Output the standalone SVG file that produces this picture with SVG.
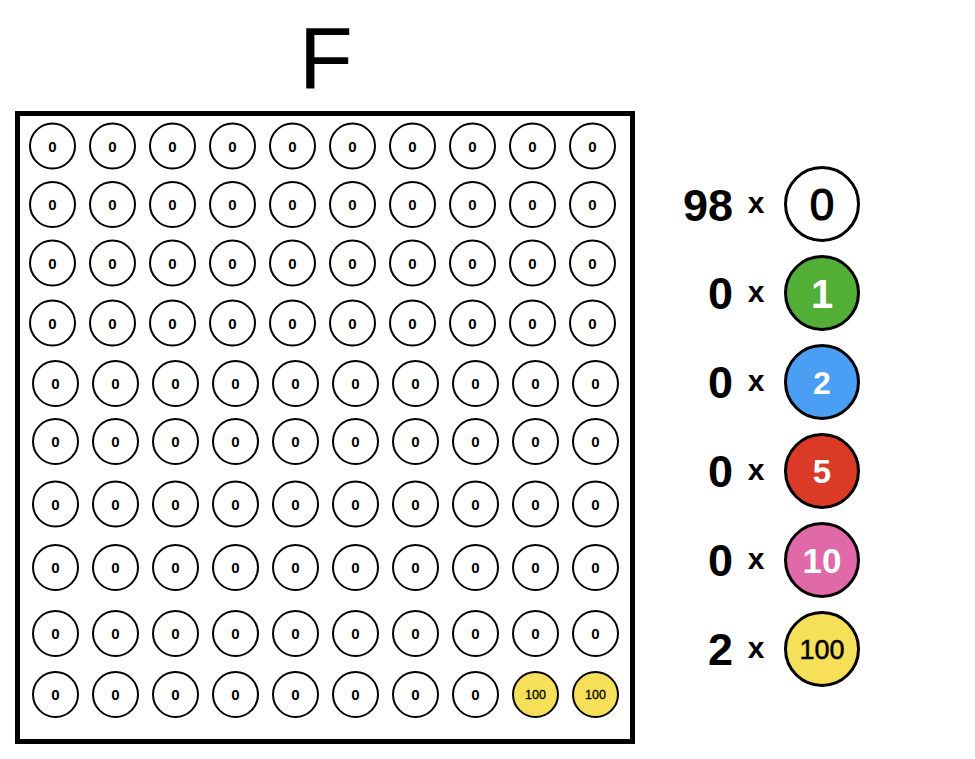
<svg xmlns="http://www.w3.org/2000/svg" width="975" height="759" viewBox="0 0 975 759">
<style>
text{font-family:"Liberation Sans",Arial,sans-serif;text-anchor:middle}
.c{fill:#fff;stroke:#000;stroke-width:2}
.y{fill:#F6E05A;stroke:#000;stroke-width:2}
.t{font-size:15px;font-weight:bold;fill:#000}
.t1{font-size:12.5px;fill:#000;stroke:#000;stroke-width:0.3}
.lc{stroke:#000;stroke-width:3}
.num{font-size:45px;font-weight:bold;text-anchor:end}
.x{font-size:30px;font-weight:bold}
</style>
<rect width="975" height="759" fill="#fff"/>
<text id="title" x="326" y="88" style="font-size:88px">F</text>
<rect id="frame" x="17.5" y="113.5" width="615" height="628" fill="none" stroke="#000" stroke-width="5"/>
<g id="grid">
<g id="r1">
<circle class="c" cx="52.5" cy="146" r="22.5"/><text class="t" x="52.5" y="151.5">0</text>
<circle class="c" cx="112.5" cy="146" r="22.5"/><text class="t" x="112.5" y="151.5">0</text>
<circle class="c" cx="172.5" cy="146" r="22.5"/><text class="t" x="172.5" y="151.5">0</text>
<circle class="c" cx="232.5" cy="146" r="22.5"/><text class="t" x="232.5" y="151.5">0</text>
<circle class="c" cx="292.5" cy="146" r="22.5"/><text class="t" x="292.5" y="151.5">0</text>
<circle class="c" cx="352.5" cy="146" r="22.5"/><text class="t" x="352.5" y="151.5">0</text>
<circle class="c" cx="412.5" cy="146" r="22.5"/><text class="t" x="412.5" y="151.5">0</text>
<circle class="c" cx="472.5" cy="146" r="22.5"/><text class="t" x="472.5" y="151.5">0</text>
<circle class="c" cx="532.5" cy="146" r="22.5"/><text class="t" x="532.5" y="151.5">0</text>
<circle class="c" cx="592.5" cy="146" r="22.5"/><text class="t" x="592.5" y="151.5">0</text>
</g>
<g id="r2">
<circle class="c" cx="52.5" cy="204.5" r="22.5"/><text class="t" x="52.5" y="210">0</text>
<circle class="c" cx="112.5" cy="204.5" r="22.5"/><text class="t" x="112.5" y="210">0</text>
<circle class="c" cx="172.5" cy="204.5" r="22.5"/><text class="t" x="172.5" y="210">0</text>
<circle class="c" cx="232.5" cy="204.5" r="22.5"/><text class="t" x="232.5" y="210">0</text>
<circle class="c" cx="292.5" cy="204.5" r="22.5"/><text class="t" x="292.5" y="210">0</text>
<circle class="c" cx="352.5" cy="204.5" r="22.5"/><text class="t" x="352.5" y="210">0</text>
<circle class="c" cx="412.5" cy="204.5" r="22.5"/><text class="t" x="412.5" y="210">0</text>
<circle class="c" cx="472.5" cy="204.5" r="22.5"/><text class="t" x="472.5" y="210">0</text>
<circle class="c" cx="532.5" cy="204.5" r="22.5"/><text class="t" x="532.5" y="210">0</text>
<circle class="c" cx="592.5" cy="204.5" r="22.5"/><text class="t" x="592.5" y="210">0</text>
</g>
<g id="r3">
<circle class="c" cx="52.5" cy="263" r="22.5"/><text class="t" x="52.5" y="268.5">0</text>
<circle class="c" cx="112.5" cy="263" r="22.5"/><text class="t" x="112.5" y="268.5">0</text>
<circle class="c" cx="172.5" cy="263" r="22.5"/><text class="t" x="172.5" y="268.5">0</text>
<circle class="c" cx="232.5" cy="263" r="22.5"/><text class="t" x="232.5" y="268.5">0</text>
<circle class="c" cx="292.5" cy="263" r="22.5"/><text class="t" x="292.5" y="268.5">0</text>
<circle class="c" cx="352.5" cy="263" r="22.5"/><text class="t" x="352.5" y="268.5">0</text>
<circle class="c" cx="412.5" cy="263" r="22.5"/><text class="t" x="412.5" y="268.5">0</text>
<circle class="c" cx="472.5" cy="263" r="22.5"/><text class="t" x="472.5" y="268.5">0</text>
<circle class="c" cx="532.5" cy="263" r="22.5"/><text class="t" x="532.5" y="268.5">0</text>
<circle class="c" cx="592.5" cy="263" r="22.5"/><text class="t" x="592.5" y="268.5">0</text>
</g>
<g id="r4">
<circle class="c" cx="52.5" cy="323" r="22.5"/><text class="t" x="52.5" y="328.5">0</text>
<circle class="c" cx="112.5" cy="323" r="22.5"/><text class="t" x="112.5" y="328.5">0</text>
<circle class="c" cx="172.5" cy="323" r="22.5"/><text class="t" x="172.5" y="328.5">0</text>
<circle class="c" cx="232.5" cy="323" r="22.5"/><text class="t" x="232.5" y="328.5">0</text>
<circle class="c" cx="292.5" cy="323" r="22.5"/><text class="t" x="292.5" y="328.5">0</text>
<circle class="c" cx="352.5" cy="323" r="22.5"/><text class="t" x="352.5" y="328.5">0</text>
<circle class="c" cx="412.5" cy="323" r="22.5"/><text class="t" x="412.5" y="328.5">0</text>
<circle class="c" cx="472.5" cy="323" r="22.5"/><text class="t" x="472.5" y="328.5">0</text>
<circle class="c" cx="532.5" cy="323" r="22.5"/><text class="t" x="532.5" y="328.5">0</text>
<circle class="c" cx="592.5" cy="323" r="22.5"/><text class="t" x="592.5" y="328.5">0</text>
</g>
<g id="r5">
<circle class="c" cx="55.5" cy="383.5" r="22.5"/><text class="t" x="55.5" y="389">0</text>
<circle class="c" cx="115.5" cy="383.5" r="22.5"/><text class="t" x="115.5" y="389">0</text>
<circle class="c" cx="175.5" cy="383.5" r="22.5"/><text class="t" x="175.5" y="389">0</text>
<circle class="c" cx="235.5" cy="383.5" r="22.5"/><text class="t" x="235.5" y="389">0</text>
<circle class="c" cx="295.5" cy="383.5" r="22.5"/><text class="t" x="295.5" y="389">0</text>
<circle class="c" cx="355.5" cy="383.5" r="22.5"/><text class="t" x="355.5" y="389">0</text>
<circle class="c" cx="415.5" cy="383.5" r="22.5"/><text class="t" x="415.5" y="389">0</text>
<circle class="c" cx="475.5" cy="383.5" r="22.5"/><text class="t" x="475.5" y="389">0</text>
<circle class="c" cx="535.5" cy="383.5" r="22.5"/><text class="t" x="535.5" y="389">0</text>
<circle class="c" cx="595.5" cy="383.5" r="22.5"/><text class="t" x="595.5" y="389">0</text>
</g>
<g id="r6">
<circle class="c" cx="55.5" cy="441.5" r="22.5"/><text class="t" x="55.5" y="447">0</text>
<circle class="c" cx="115.5" cy="441.5" r="22.5"/><text class="t" x="115.5" y="447">0</text>
<circle class="c" cx="175.5" cy="441.5" r="22.5"/><text class="t" x="175.5" y="447">0</text>
<circle class="c" cx="235.5" cy="441.5" r="22.5"/><text class="t" x="235.5" y="447">0</text>
<circle class="c" cx="295.5" cy="441.5" r="22.5"/><text class="t" x="295.5" y="447">0</text>
<circle class="c" cx="355.5" cy="441.5" r="22.5"/><text class="t" x="355.5" y="447">0</text>
<circle class="c" cx="415.5" cy="441.5" r="22.5"/><text class="t" x="415.5" y="447">0</text>
<circle class="c" cx="475.5" cy="441.5" r="22.5"/><text class="t" x="475.5" y="447">0</text>
<circle class="c" cx="535.5" cy="441.5" r="22.5"/><text class="t" x="535.5" y="447">0</text>
<circle class="c" cx="595.5" cy="441.5" r="22.5"/><text class="t" x="595.5" y="447">0</text>
</g>
<g id="r7">
<circle class="c" cx="55.5" cy="504" r="22.5"/><text class="t" x="55.5" y="509.5">0</text>
<circle class="c" cx="115.5" cy="504" r="22.5"/><text class="t" x="115.5" y="509.5">0</text>
<circle class="c" cx="175.5" cy="504" r="22.5"/><text class="t" x="175.5" y="509.5">0</text>
<circle class="c" cx="235.5" cy="504" r="22.5"/><text class="t" x="235.5" y="509.5">0</text>
<circle class="c" cx="295.5" cy="504" r="22.5"/><text class="t" x="295.5" y="509.5">0</text>
<circle class="c" cx="355.5" cy="504" r="22.5"/><text class="t" x="355.5" y="509.5">0</text>
<circle class="c" cx="415.5" cy="504" r="22.5"/><text class="t" x="415.5" y="509.5">0</text>
<circle class="c" cx="475.5" cy="504" r="22.5"/><text class="t" x="475.5" y="509.5">0</text>
<circle class="c" cx="535.5" cy="504" r="22.5"/><text class="t" x="535.5" y="509.5">0</text>
<circle class="c" cx="595.5" cy="504" r="22.5"/><text class="t" x="595.5" y="509.5">0</text>
</g>
<g id="r8">
<circle class="c" cx="55.5" cy="567.5" r="22.5"/><text class="t" x="55.5" y="573">0</text>
<circle class="c" cx="115.5" cy="567.5" r="22.5"/><text class="t" x="115.5" y="573">0</text>
<circle class="c" cx="175.5" cy="567.5" r="22.5"/><text class="t" x="175.5" y="573">0</text>
<circle class="c" cx="235.5" cy="567.5" r="22.5"/><text class="t" x="235.5" y="573">0</text>
<circle class="c" cx="295.5" cy="567.5" r="22.5"/><text class="t" x="295.5" y="573">0</text>
<circle class="c" cx="355.5" cy="567.5" r="22.5"/><text class="t" x="355.5" y="573">0</text>
<circle class="c" cx="415.5" cy="567.5" r="22.5"/><text class="t" x="415.5" y="573">0</text>
<circle class="c" cx="475.5" cy="567.5" r="22.5"/><text class="t" x="475.5" y="573">0</text>
<circle class="c" cx="535.5" cy="567.5" r="22.5"/><text class="t" x="535.5" y="573">0</text>
<circle class="c" cx="595.5" cy="567.5" r="22.5"/><text class="t" x="595.5" y="573">0</text>
</g>
<g id="r9">
<circle class="c" cx="55.5" cy="633.5" r="22.5"/><text class="t" x="55.5" y="639">0</text>
<circle class="c" cx="115.5" cy="633.5" r="22.5"/><text class="t" x="115.5" y="639">0</text>
<circle class="c" cx="175.5" cy="633.5" r="22.5"/><text class="t" x="175.5" y="639">0</text>
<circle class="c" cx="235.5" cy="633.5" r="22.5"/><text class="t" x="235.5" y="639">0</text>
<circle class="c" cx="295.5" cy="633.5" r="22.5"/><text class="t" x="295.5" y="639">0</text>
<circle class="c" cx="355.5" cy="633.5" r="22.5"/><text class="t" x="355.5" y="639">0</text>
<circle class="c" cx="415.5" cy="633.5" r="22.5"/><text class="t" x="415.5" y="639">0</text>
<circle class="c" cx="475.5" cy="633.5" r="22.5"/><text class="t" x="475.5" y="639">0</text>
<circle class="c" cx="535.5" cy="633.5" r="22.5"/><text class="t" x="535.5" y="639">0</text>
<circle class="c" cx="595.5" cy="633.5" r="22.5"/><text class="t" x="595.5" y="639">0</text>
</g>
<g id="r10">
<circle class="c" cx="55.5" cy="694.5" r="22.5"/><text class="t" x="55.5" y="700">0</text>
<circle class="c" cx="115.5" cy="694.5" r="22.5"/><text class="t" x="115.5" y="700">0</text>
<circle class="c" cx="175.5" cy="694.5" r="22.5"/><text class="t" x="175.5" y="700">0</text>
<circle class="c" cx="235.5" cy="694.5" r="22.5"/><text class="t" x="235.5" y="700">0</text>
<circle class="c" cx="295.5" cy="694.5" r="22.5"/><text class="t" x="295.5" y="700">0</text>
<circle class="c" cx="355.5" cy="694.5" r="22.5"/><text class="t" x="355.5" y="700">0</text>
<circle class="c" cx="415.5" cy="694.5" r="22.5"/><text class="t" x="415.5" y="700">0</text>
<circle class="c" cx="475.5" cy="694.5" r="22.5"/><text class="t" x="475.5" y="700">0</text>
<circle class="y" cx="535.5" cy="694.5" r="22.5"/><text class="t1" x="535.5" y="699">100</text>
<circle class="y" cx="595.5" cy="694.5" r="22.5"/><text class="t1" x="595.5" y="699">100</text>
</g>
</g>
<g id="legend">
<g id="leg0">
<text class="num" x="733" y="221">98</text><text class="x" x="756" y="213">x</text>
<circle class="lc" cx="822" cy="204" r="36.5" fill="#fff"/>
<text x="822" y="220" style="font-size:44px;stroke:#000;stroke-width:1.2">0</text>
</g>
<g id="leg1">
<text class="num" x="733" y="309">0</text><text class="x" x="756" y="302">x</text>
<circle class="lc" cx="822" cy="293" r="36.5" fill="#52AE34"/>
<text x="822" y="308" style="font-size:40px;font-weight:bold;fill:#fff">1</text>
</g>
<g id="leg2">
<text class="num" x="733" y="398">0</text><text class="x" x="756" y="391">x</text>
<circle class="lc" cx="822" cy="382" r="36.5" fill="#4A9FF5"/>
<text x="822" y="394" style="font-size:32px;font-weight:bold;fill:#fff">2</text>
</g>
<g id="leg5">
<text class="num" x="733" y="487">0</text><text class="x" x="756" y="480">x</text>
<circle class="lc" cx="822" cy="471" r="36.5" fill="#DA3A26"/>
<text x="822" y="483" style="font-size:33px;font-weight:bold;fill:#fff">5</text>
</g>
<g id="leg10">
<text class="num" x="733" y="576">0</text><text class="x" x="756" y="569">x</text>
<circle class="lc" cx="822" cy="560" r="36.5" fill="#E06AA8"/>
<text x="822" y="573" style="font-size:35px;font-weight:bold;fill:#fff">10</text>
</g>
<g id="leg100">
<text class="num" x="733" y="665">2</text><text class="x" x="756" y="658">x</text>
<circle class="lc" cx="822" cy="649" r="36.5" fill="#F6E05A"/>
<text x="822" y="659" style="font-size:27px;fill:#000;stroke:#000;stroke-width:0.5">100</text>
</g>
</g>
</svg>
